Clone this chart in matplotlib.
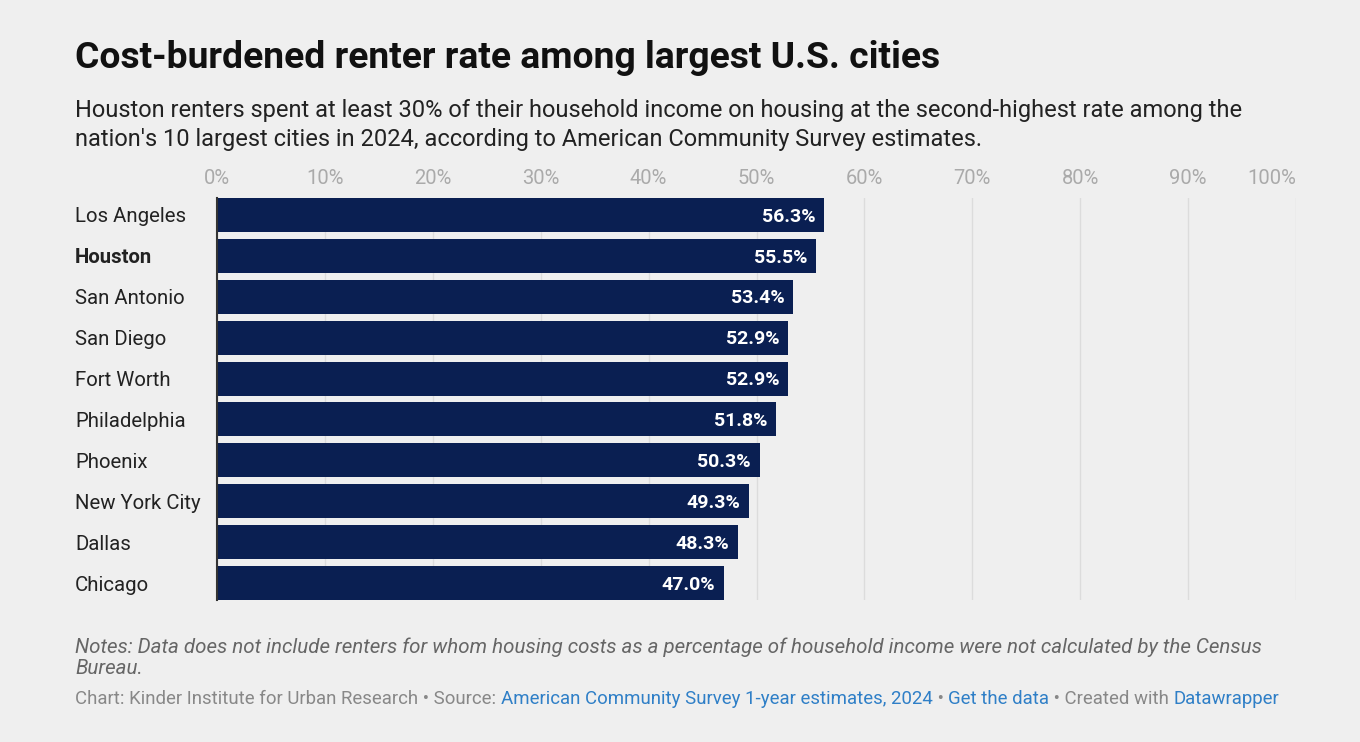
import matplotlib.pyplot as plt
import numpy as np

cities = ["Los Angeles", "Houston", "San Antonio", "San Diego", "Fort Worth",
          "Philadelphia", "Phoenix", "New York City", "Dallas", "Chicago"]
rates = [56.3, 55.5, 53.4, 52.9, 52.9, 51.8, 50.3, 49.3, 48.3, 47.0]
ticks = [0, 10, 20, 30, 40, 50, 60, 70, 80, 90, 100]

bg = "#efefef"
bar_color = "#0a1f52"

plt.rcParams['font.family'] = ['Roboto', 'DejaVu Sans']

fig = plt.figure(figsize=(13.6, 7.42), dpi=100, facecolor=bg)
ax = fig.add_axes([217 / 1360, 1 - 600 / 742, (1296 - 217) / 1360, 402 / 742])
ax.set_facecolor(bg)

y = np.arange(len(cities))
ax.barh(y, rates, height=0.83, color=bar_color, zorder=3)
ax.set_ylim(9.415, -0.415)
ax.set_xlim(0, 100)

for yi, r in zip(y, rates):
    ax.text(r - 0.8, yi + 0.04, f"{r:.1f}%", ha="right", va="center",
            color="white", fontsize=14, fontweight="bold", zorder=4)

ax.set_xticks(ticks)
ax.set_xticklabels([f"{t}%" for t in ticks])
ax.xaxis.tick_top()
ax.tick_params(axis="x", length=0, pad=7, labelsize=14.5, labelcolor="#aaaaaa")
ax.get_xticklabels()[-1].set_horizontalalignment("right")
ax.grid(axis="x", color="#dcdcdc", linewidth=1, zorder=0)

ax.set_yticks(y)
ax.set_yticklabels(cities)
ax.tick_params(axis="y", length=0, pad=0, labelsize=14.7, labelcolor="#222222")
for lbl in ax.get_yticklabels():
    lbl.set_horizontalalignment("left")
    lbl.set_verticalalignment("center_baseline")
    lbl.set_x(-(217 - 75) / (1296 - 217))
    if lbl.get_text() == "Houston":
        lbl.set_fontweight("bold")

for s in ["top", "right", "bottom"]:
    ax.spines[s].set_visible(False)
ax.spines["left"].set_color("#333333")
ax.spines["left"].set_linewidth(1.5)
ax.spines["left"].set_zorder(5)

fig.text(75 / 1360, 1 - 58 / 742, "Cost-burdened renter rate among largest U.S. cities",
         fontsize=26.8, fontweight="bold", color="#111111", va="center")
fig.text(75 / 1360, 1 - 125 / 742,
         "Houston renters spent at least 30% of their household income on housing at the second-highest rate among the\n"
         "nation's 10 largest cities in 2024, according to American Community Survey estimates.",
         fontsize=17, color="#222222", va="center", linespacing=1.3)

fig.text(75 / 1360, 1 - 658 / 742,
         "Notes: Data does not include renters for whom housing costs as a percentage of household income were not calculated by the Census\n"
         "Bureau.",
         fontsize=14.8, style="italic", color="#666666", va="center", linespacing=1.16)

# footer with mixed colours, placed piece by piece
grey = "#888888"
blue = "#2f7fc7"
parts = [("Chart: Kinder Institute for Urban Research • Source: ", grey),
         ("American Community Survey 1-year estimates, 2024", blue),
         (" • ", grey),
         ("Get the data", blue),
         (" • Created with ", grey),
         ("Datawrapper", blue)]
renderer = fig.canvas.get_renderer()
x0 = 75 / 1360
for txt, col in parts:
    t = fig.text(x0, 1 - 699 / 742, txt, fontsize=13.4, color=col, va="center")
    bb = t.get_window_extent(renderer=renderer)
    x0 = fig.transFigure.inverted().transform((bb.x1, bb.y0))[0]

fig.savefig("out.png", dpi=100, facecolor=bg)
